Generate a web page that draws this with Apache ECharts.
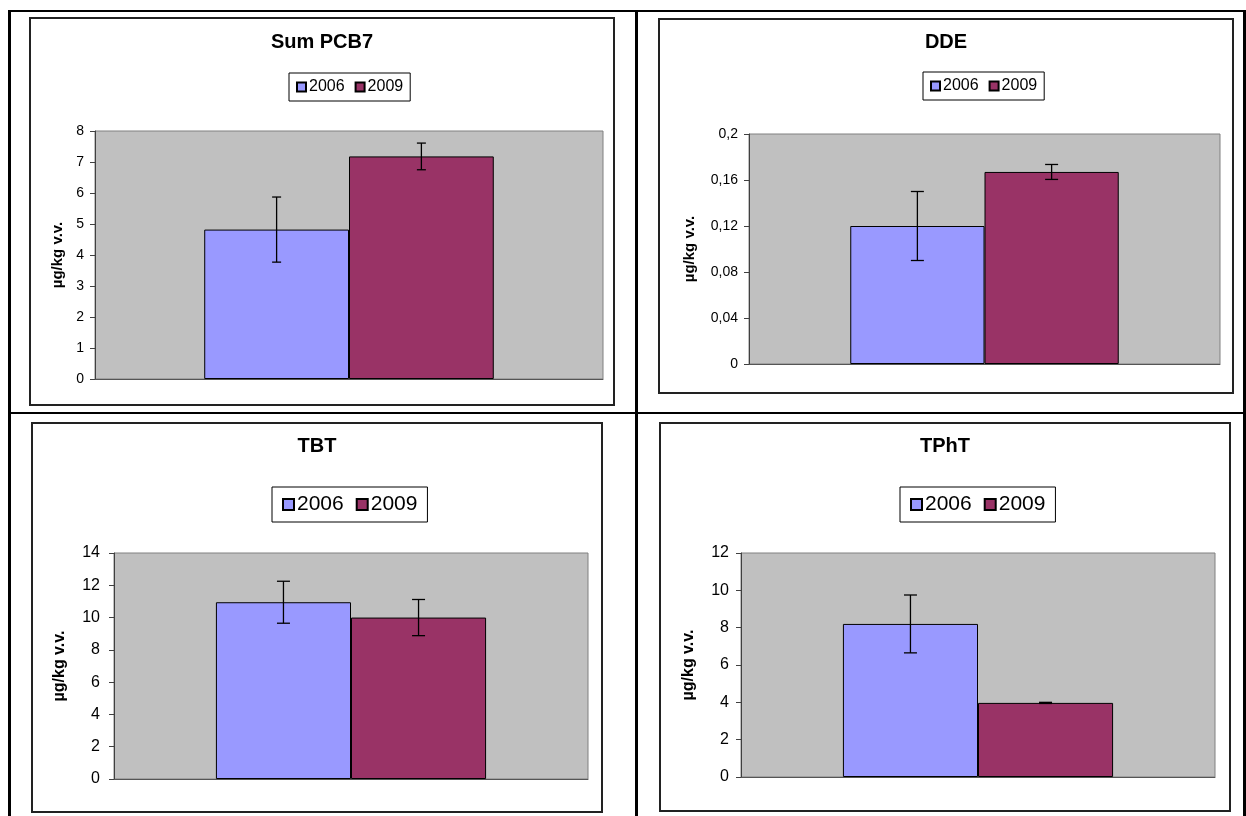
<!DOCTYPE html>
<html><head><meta charset="utf-8">
<script src="https://cdn.jsdelivr.net/npm/echarts/dist/echarts.min.js"></script>
<style>
html,body{margin:0;padding:0;background:#fff;width:1246px;height:816px;overflow:hidden;}
body{position:relative;font-family:"Liberation Sans",Arial,sans-serif;}
.ln{position:absolute;background:#000;}
.box{position:absolute;box-sizing:border-box;border:2px solid #222;pointer-events:none;z-index:5;}
.ch{position:absolute;}
</style></head>
<body>
<div class="ln" style="left:8px;top:10px;width:1238px;height:2px"></div>
<div class="ln" style="left:8px;top:412px;width:1238px;height:2px"></div>
<div class="ln" style="left:8px;top:10px;width:3px;height:806px"></div>
<div class="ln" style="left:635px;top:10px;width:3px;height:806px"></div>
<div class="ln" style="left:1243px;top:10px;width:3px;height:806px"></div>
<div id="c0" class="ch"></div><div id="b0" class="box"></div>
<div id="c1" class="ch"></div><div id="b1" class="box"></div>
<div id="c2" class="ch"></div><div id="b2" class="box"></div>
<div id="c3" class="ch"></div><div id="b3" class="box"></div>
<script>
// ---- data ----
const years = ['2006', '2009'];
const categories = [''];
const titles = ['Sum PCB7', 'DDE', 'TBT', 'TPhT'];
const yAxisName = 'µg/kg v.v.';
const pcbMean = [4.82, 7.18];
const pcbErr = [1.05, 0.43];
const ddeMean = [0.12, 0.167];
const ddeErr = [0.03, 0.0065];
const tbtMean = [10.95, 10.0];
const tbtErr = [1.3, 1.12];
const tphtMean = [8.2, 3.97];
const tphtErr = [1.55, 0.03];
const yMax = [8, 0.2, 14, 12];
const yStep = [1, 0.04, 2, 2];
const means = [pcbMean, ddeMean, tbtMean, tphtMean];
const errs = [pcbErr, ddeErr, tbtErr, tphtErr];

// ---- layout / style ----
const colors = ['#9999FF', '#993366'];
const GAP = 0.43;
const layouts = [
  {box:[29,17,586,389], grid:[66,114,508,248], titleTop:15, lg:{left:260,top:56,font:16,icon:9,pad:[6,7],gap:10}, tick:14, margin:11, nameGap:28, nameFont:15, cap:9},
  {box:[658,18,576,376], grid:[91,116,471,230], titleTop:14, lg:{left:265,top:54,font:16,icon:9,pad:[6,7],gap:10}, tick:14, margin:11, nameGap:52, nameFont:15, cap:13},
  {box:[31,422,572,391], grid:[83,131,474,226], titleTop:14, lg:{left:241,top:65,font:21,icon:11,pad:[7,10],gap:12}, tick:16, margin:14, nameGap:46, nameFont:16, cap:13},
  {box:[659,422,572,390], grid:[82,131,474,224], titleTop:14, lg:{left:241,top:65,font:21,icon:11,pad:[7,10],gap:12}, tick:16, margin:12, nameGap:44, nameFont:16, cap:13}
];
const FONT = '"Liberation Sans", Arial, sans-serif';

function fmt(i) {
  return function (v) {
    if (i === 1) return String(+v.toFixed(2)).replace('.', ',');
    return String(v);
  };
}

layouts.forEach(function (L, i) {
  const [bx, by, bw, bh] = L.box;
  ['c', 'b'].forEach(function (p) {
    const d = document.getElementById(p + i);
    d.style.left = bx + 'px'; d.style.top = by + 'px';
    d.style.width = bw + 'px'; d.style.height = bh + 'px';
  });
  const chart = echarts.init(document.getElementById('c' + i), null, {renderer: 'canvas'});
  const m = means[i], e = errs[i];
  const cap = L.cap;
  const series = years.map(function (y, k) {
    return {
      name: y, type: 'bar', data: [m[k]], barGap: '0%', barCategoryGap: (GAP * 100) + '%',
      itemStyle: {color: colors[k], borderColor: '#000', borderWidth: 1},
      emphasis: {disabled: true}, animation: false
    };
  });
  series.push({
    type: 'custom', z: 10, animation: false,
    data: m.map(function (v, k) { return [0, k, v, e[k]]; }),
    encode: {x: 0, y: 2},
    renderItem: function (params, api) {
      const k = api.value(1), v = api.value(2), er = api.value(3);
      const band = api.size([1, 0])[0];
      const w = band * (1 - GAP) / 2;
      const base = api.coord([0, v]);
      const cx = base[0] + (k - 0.5) * w;
      const top = api.coord([0, v + er])[1];
      const bot = api.coord([0, v - er])[1];
      const st = {stroke: '#000', lineWidth: 1.3};
      return {type: 'group', children: [
        {type: 'line', shape: {x1: cx, y1: top, x2: cx, y2: bot}, style: st},
        {type: 'line', shape: {x1: cx - cap / 2, y1: top, x2: cx + cap / 2, y2: top}, style: st},
        {type: 'line', shape: {x1: cx - cap / 2, y1: bot, x2: cx + cap / 2, y2: bot}, style: st}
      ]};
    }
  });
  chart.setOption({
    animation: false,
    textStyle: {fontFamily: FONT},
    title: {text: titles[i], left: 'center', top: L.titleTop, padding: 0,
      textStyle: {fontSize: 20, fontWeight: 'bold', color: '#000', fontFamily: FONT}},
    legend: {
      data: years, left: L.lg.left, top: L.lg.top, padding: L.lg.pad,
      itemWidth: L.lg.icon, itemHeight: L.lg.icon, itemGap: L.lg.gap, icon: 'rect',
      borderColor: '#000', borderWidth: 1, backgroundColor: '#fff',
      textStyle: {fontSize: L.lg.font, color: '#000', fontFamily: FONT, padding: [0, 0, 0, -2]},
      selectedMode: false
    },
    grid: {left: L.grid[0], top: L.grid[1], width: L.grid[2], height: L.grid[3],
      show: true, backgroundColor: '#C0C0C0', borderColor: '#808080', borderWidth: 1},
    xAxis: {type: 'category', data: categories,
      axisLine: {lineStyle: {color: '#555', width: 1}}, axisTick: {show: false}, axisLabel: {show: false}},
    yAxis: {type: 'value', min: 0, max: yMax[i], interval: yStep[i],
      name: yAxisName, nameLocation: 'middle', nameGap: L.nameGap,
      nameTextStyle: {fontSize: L.nameFont, fontWeight: 'bold', color: '#000', fontFamily: FONT},
      axisLine: {show: true, lineStyle: {color: '#404040', width: 1}},
      axisTick: {show: true, length: 5, lineStyle: {color: '#404040'}},
      splitLine: {show: false},
      axisLabel: {fontSize: L.tick, color: '#000', margin: L.margin, formatter: fmt(i), fontFamily: FONT}},
    series: series
  });
});
</script>
</body></html>
